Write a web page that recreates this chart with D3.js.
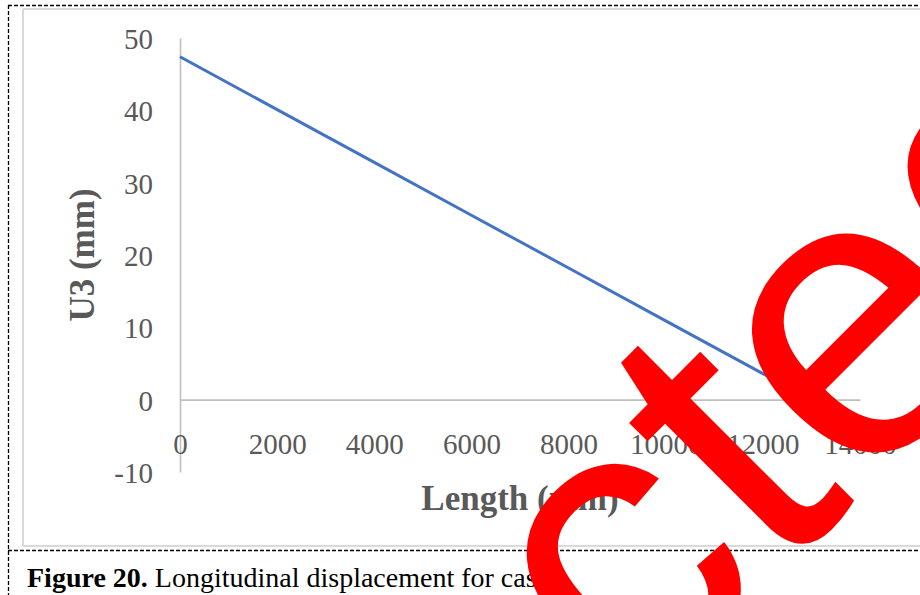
<!DOCTYPE html>
<html>
<head>
<meta charset="utf-8">
<script src="https://cdn.jsdelivr.net/npm/d3@7"></script>
<style>
  html, body { margin: 0; padding: 0; background: #fff; }
  svg { display: block; }
</style>
</head>
<body>
<svg id="chart" width="920" height="595"></svg>
<script>
// Longitudinal displacement U3 along the member length
const lengthMM = [0, 2000, 4000, 6000, 8000, 10000, 12000, 13000];
const u3MM = [47.4, 40.1, 32.8, 25.5, 18.2, 10.9, 3.6, 0];
const xTicks = [0, 2000, 4000, 6000, 8000, 10000, 12000, 14000];
const yTicks = [-10, 0, 10, 20, 30, 40, 50];
const xTitle = "Length (mm)";
const yTitle = "U3 (mm)";
const captionBold = "Figure 20.";
const captionText = " Longitudinal displacement for case";
const stampText = "Retracted";

const svg = d3.select("#chart");
const W = 920, H = 595;

const serif = "'Liberation Serif', 'Times New Roman', serif";
const grey = "#595959";

// Page frame: dashed outline and caption divider
const frame = svg.append("g")
  .attr("fill", "none")
  .attr("stroke", "#000")
  .attr("stroke-width", 1.3)
  .attr("stroke-dasharray", "4,2");
frame.append("line").attr("x1", 8).attr("x2", W).attr("y1", 5.5).attr("y2", 5.5);
frame.append("line").attr("x1", 8.5).attr("x2", 8.5).attr("y1", 5).attr("y2", H);
frame.append("line").attr("x1", 8).attr("x2", W).attr("y1", 550.5).attr("y2", 550.5);

// Chart area border
const area = svg.append("g").attr("fill", "none").attr("stroke", "#d9d9d9").attr("stroke-width", 2);
area.append("line").attr("x1", 23).attr("x2", W).attr("y1", 9).attr("y2", 9);
area.append("line").attr("x1", 23).attr("x2", 23).attr("y1", 9).attr("y2", 546);
area.append("line").attr("x1", 23).attr("x2", W).attr("y1", 546).attr("y2", 546);

// Scales
const x = d3.scaleLinear().domain([0, 14000]).range([180, 860]);
const y = d3.scaleLinear().domain([-10, 50]).range([472, 38]);

// Y axis (line plus labels)
const yAxis = d3.axisLeft(y).tickValues(yTicks).tickSize(0).tickPadding(27)
  .tickFormat(d => d3.format("d")(d).replace("−", "-"));
const gy = svg.append("g").attr("transform", `translate(${x(0)},0)`).call(yAxis);
gy.select(".domain").attr("stroke", "#bfbfbf").attr("stroke-width", 1.6);
gy.selectAll("text")
  .attr("font-family", serif).attr("font-size", 29).attr("fill", grey)
  .attr("dy", "0.36em");

// X axis drawn at zero, labels placed below the plot
const xAxis = d3.axisBottom(x).tickValues(xTicks).tickSize(0).tickFormat(d3.format("d"));
const gx = svg.append("g").attr("transform", `translate(0,${y(0)})`).call(xAxis);
gx.select(".domain").attr("stroke", "#bfbfbf").attr("stroke-width", 1.6);
gx.selectAll("text")
  .attr("font-family", serif).attr("font-size", 29).attr("fill", grey)
  .attr("y", 54).attr("dy", 0);

// Data line
const line = d3.line().x((d, i) => x(lengthMM[i])).y(d => y(d));
svg.append("path")
  .datum(u3MM)
  .attr("d", line)
  .attr("fill", "none")
  .attr("stroke", "#4472c4")
  .attr("stroke-width", 3)
  .attr("stroke-linejoin", "round");

// Axis titles
svg.append("text")
  .attr("x", (x.range()[0] + x.range()[1]) / 2).attr("y", 510)
  .attr("text-anchor", "middle")
  .attr("font-family", serif).attr("font-size", 35).attr("font-weight", "bold").attr("fill", grey)
  .text(xTitle);
svg.append("text")
  .attr("transform", `translate(94,${(y.range()[0] + y.range()[1]) / 2}) rotate(-90)`)
  .attr("text-anchor", "middle")
  .attr("font-family", serif).attr("font-size", 35).attr("font-weight", "bold").attr("fill", grey)
  .text(yTitle);

// Caption
const cap = svg.append("text")
  .attr("x", 27).attr("y", 587)
  .attr("font-family", serif).attr("font-size", 28).attr("fill", "#000");
cap.append("tspan").attr("font-weight", "bold").text(captionBold);
cap.append("tspan").text(captionText);

// Diagonal stamp across the page
svg.append("text")
  .attr("transform", "translate(-72.6,1429.4) rotate(-45)")
  .attr("font-family", "'Liberation Sans', Arial, sans-serif")
  .attr("font-size", 408)
  .attr("fill", "#ff0000")
  .text(stampText);
</script>
</body>
</html>
